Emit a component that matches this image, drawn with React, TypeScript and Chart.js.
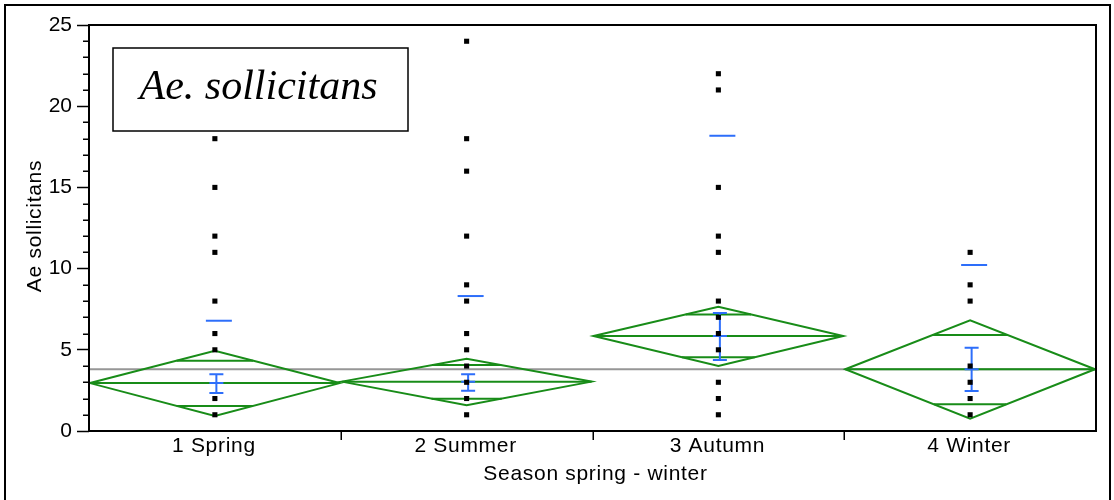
import React, { useEffect, useRef } from 'react';
import { Chart, registerables } from 'chart.js';

Chart.register(...registerables);

const categories = ['1 Spring', '2 Summer', '3 Autumn', '4 Winter'];
const springValues = [1, 2, 5, 6, 8, 11, 12, 15, 18];
const summerValues = [1, 2, 3, 4, 5, 6, 8, 9, 12, 16, 18, 24];
const autumnValues = [1, 2, 3, 5, 6, 7, 8, 11, 12, 15, 21, 22];
const winterValues = [1, 2, 3, 4, 8, 9, 11];
const seasonValues = [springValues, summerValues, autumnValues, winterValues];

const groupMeans = [2.95, 3.04, 5.85, 3.8];
const ciUpper = [4.94, 4.45, 7.65, 6.82];
const ciLower = [0.92, 1.58, 4.0, 0.76];
const overlapUpper = [4.33, 4.06, 7.18, 5.91];
const overlapLower = [1.54, 1.99, 4.54, 1.64];
const seUpper = [3.49, 3.49, 7.27, 5.13];
const seLower = [2.34, 2.48, 4.37, 2.46];
const sdUpper = [6.79, 8.31, 18.18, 10.22];
const grandMean = 3.8;

const yTicks = [0, 5, 10, 15, 20, 25];
const yMinorStep = 1;
const titleText = 'Ae. sollicitans';
const xTitle = 'Season spring - winter';
const yTitle = 'Ae sollicitans';

const GREEN = 'rgb(24,140,24)';
const BLUE = 'rgb(45,110,250)';
const GREY = 'rgb(150,150,150)';
const SANS = '"Liberation Sans", Arial, Helvetica, sans-serif';

const statsPlugin = {
  id: 'statsPlugin',
  beforeDatasetsDraw(chart: any) {
    const { ctx, chartArea: a, scales } = chart;
    const x = scales.x;
    const y = scales.y;
    ctx.save();
    ctx.beginPath();
    ctx.rect(a.left, a.top, a.right - a.left, a.bottom - a.top);
    ctx.clip();

    // grand mean
    ctx.strokeStyle = GREY;
    ctx.lineWidth = 2;
    const yg = y.getPixelForValue(grandMean);
    ctx.beginPath();
    ctx.moveTo(a.left, yg);
    ctx.lineTo(a.right, yg);
    ctx.stroke();

    categories.forEach((_c, i) => {
      const xl = x.getPixelForValue(i) + 1;
      const xr = x.getPixelForValue(i + 1) - 1;
      const xc = x.getPixelForValue(i + 0.5);
      const half = (xr - xl) / 2;
      const m = groupMeans[i];
      const ym = y.getPixelForValue(m);
      const yt = y.getPixelForValue(ciUpper[i]);
      const yb = y.getPixelForValue(ciLower[i]);

      ctx.strokeStyle = GREEN;
      ctx.lineWidth = 2;
      ctx.beginPath();
      ctx.moveTo(xl, ym);
      ctx.lineTo(xc, yt);
      ctx.lineTo(xr, ym);
      ctx.lineTo(xc, yb);
      ctx.closePath();
      ctx.stroke();
      ctx.beginPath();
      ctx.moveTo(xl, ym);
      ctx.lineTo(xr, ym);
      ctx.stroke();

      const hu = half * (1 - (overlapUpper[i] - m) / (ciUpper[i] - m));
      const hl = half * (1 - (m - overlapLower[i]) / (m - ciLower[i]));
      const you = y.getPixelForValue(overlapUpper[i]);
      const yol = y.getPixelForValue(overlapLower[i]);
      ctx.beginPath();
      ctx.moveTo(xc - hu, you);
      ctx.lineTo(xc + hu, you);
      ctx.moveTo(xc - hl, yol);
      ctx.lineTo(xc + hl, yol);
      ctx.stroke();

      // error bar (SE)
      const ex = xc + 1.5;
      const yse1 = y.getPixelForValue(seUpper[i]);
      const yse2 = y.getPixelForValue(seLower[i]);
      ctx.strokeStyle = BLUE;
      ctx.lineWidth = 2;
      ctx.beginPath();
      ctx.moveTo(ex, yse1);
      ctx.lineTo(ex, yse2);
      ctx.moveTo(ex - 7, yse1);
      ctx.lineTo(ex + 7, yse1);
      ctx.moveTo(ex - 7, yse2);
      ctx.lineTo(ex + 7, yse2);
      ctx.moveTo(ex - 7, ym);
      ctx.lineTo(ex + 7, ym);
      ctx.stroke();

      // std dev line
      const ysd = y.getPixelForValue(sdUpper[i]);
      ctx.beginPath();
      ctx.moveTo(xc - 9, ysd);
      ctx.lineTo(xc + 17, ysd);
      ctx.stroke();
    });
    ctx.restore();
  },
};

const framePlugin = {
  id: 'framePlugin',
  afterDraw(chart: any) {
    const { ctx, chartArea: a, scales } = chart;
    const x = scales.x;
    const y = scales.y;
    ctx.save();

    // minor y ticks
    ctx.strokeStyle = '#000';
    ctx.lineWidth = 1.5;
    ctx.beginPath();
    for (let v = y.min; v <= y.max; v += yMinorStep) {
      if (yTicks.includes(v)) continue;
      const py = Math.round(y.getPixelForValue(v)) + 0.25;
      ctx.moveTo(a.left - 6, py);
      ctx.lineTo(a.left, py);
    }
    ctx.stroke();

    // x separators
    ctx.beginPath();
    for (let i = 1; i < categories.length; i++) {
      const px = Math.round(x.getPixelForValue(i)) + 0.25;
      ctx.moveTo(px, a.bottom);
      ctx.lineTo(px, a.bottom + 9);
    }
    ctx.stroke();

    // plot frame
    ctx.lineWidth = 2;
    ctx.strokeRect(a.left, a.top, a.right - a.left, a.bottom - a.top);

    // x labels
    ctx.fillStyle = '#000';
    (ctx as any).letterSpacing = '0.7px';
    ctx.font = `21px ${SANS}`;
    ctx.textAlign = 'center';
    ctx.textBaseline = 'alphabetic';
    categories.forEach((c, i) => {
      ctx.fillText(c, x.getPixelForValue(i + 0.5) - 1, a.bottom + 21);
    });
    ctx.fillText(xTitle, (a.left + a.right) / 2 + 3, a.bottom + 49);

    // y title
    ctx.save();
    ctx.translate(41, (a.top + a.bottom) / 2 - 2);
    ctx.rotate(-Math.PI / 2);
    ctx.fillText(yTitle, 0, 0);
    ctx.restore();
    (ctx as any).letterSpacing = '0px';

    // annotation box
    const bx = a.left + 24;
    const by = a.top + 23;
    const bw = 295;
    const bh = 83;
    ctx.fillStyle = '#fff';
    ctx.fillRect(bx, by, bw, bh);
    ctx.lineWidth = 1.5;
    ctx.strokeStyle = '#000';
    ctx.strokeRect(bx, by, bw, bh);
    ctx.fillStyle = '#000';
    ctx.font = `italic 42px "Liberation Serif", "Times New Roman", serif`;
    ctx.textAlign = 'center';
    ctx.fillText(titleText, bx + bw / 2 - 2, by + 51);

    // outer frame
    ctx.lineWidth = 2;
    ctx.strokeRect(5, 5, chart.width - 9, chart.height + 10);
    ctx.restore();
  },
};

export default function App() {
  const ref = useRef<HTMLCanvasElement>(null);
  useEffect(() => {
    if (!ref.current) return;
    const chart = new Chart(ref.current, {
      type: 'scatter',
      data: {
        datasets: seasonValues.map((vals, i) => ({
          label: categories[i],
          data: vals.map((v) => ({ x: i + 0.5, y: v })),
          pointStyle: 'rect',
          pointRadius: 3.6,
          pointHoverRadius: 3.6,
          backgroundColor: '#000',
          borderWidth: 0,
        })),
      },
      options: {
        responsive: false,
        animation: false,
        devicePixelRatio: 1,
        layout: { padding: { top: 25, right: 18, left: 0, bottom: 0 } },
        plugins: { legend: { display: false }, tooltip: { enabled: false } },
        scales: {
          x: {
            type: 'linear',
            min: 0,
            max: categories.length,
            ticks: { display: false },
            grid: { display: false },
            border: { display: false },
            afterFit: (s: any) => {
              s.height = 69;
            },
          },
          y: {
            type: 'linear',
            min: 0,
            max: 25,
            afterBuildTicks: (s: any) => {
              s.ticks = yTicks.map((v) => ({ value: v }));
            },
            ticks: {
              font: { family: SANS, size: 21 },
              color: '#000',
              padding: 5,
            },
            grid: {
              drawOnChartArea: false,
              tickLength: 12,
              tickColor: '#000',
              tickWidth: 1.5,
            },
            border: { display: false },
            afterFit: (s: any) => {
              s.width = 89;
            },
          },
        },
      },
      plugins: [statsPlugin, framePlugin],
    });
    return () => chart.destroy();
  }, []);
  return (
    <div style={{ position: 'fixed', left: 0, top: 0, width: 1114, height: 500, background: '#fff' }}>
      <canvas ref={ref} width={1114} height={500} style={{ display: 'block' }} />
    </div>
  );
}
